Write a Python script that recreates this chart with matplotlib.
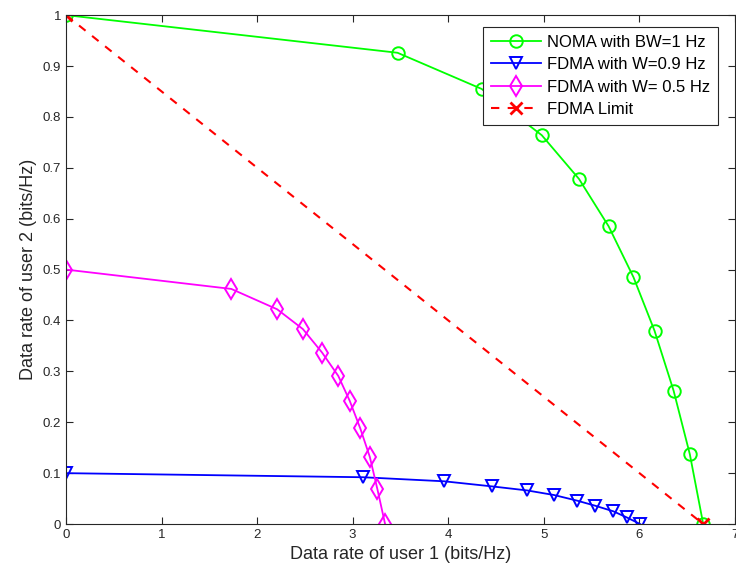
import numpy as np
import matplotlib.pyplot as plt

# ── Data ─────────────────────────────────────────────────────────────────────
noma_x = [0.0, 3.47, 4.35, 4.98, 5.37, 5.68, 5.94, 6.16, 6.36, 6.53, 6.67]
noma_y = [1.0, 0.926, 0.855, 0.764, 0.678, 0.585, 0.485, 0.380, 0.262, 0.137, 0.0]

fdma09_x = [0.0, 3.11, 3.96, 4.46, 4.83, 5.11, 5.35, 5.54, 5.73, 5.87, 6.01]
fdma09_y = [0.100, 0.092, 0.084, 0.074, 0.066, 0.057, 0.046, 0.036, 0.025, 0.013, 0.0]

fdma05_x = [0.0, 1.73, 2.21, 2.48, 2.68, 2.85, 2.97, 3.08, 3.18, 3.26, 3.34]
fdma05_y = [0.500, 0.462, 0.422, 0.383, 0.337, 0.291, 0.242, 0.188, 0.132, 0.068, 0.0]

limit_x = [0.0, 6.67]
limit_y = [1.0, 0.0]

plt.rcParams["font.family"] = "Liberation Sans"

fig = plt.figure(figsize=(7.36, 5.81), dpi=100)
ax = fig.add_axes([0.0897, 0.098, 0.9086, 0.876])

ax.plot(noma_x, noma_y, color="#00ff00", lw=1.3, marker="o", ms=9,
        mfc="none", mew=1.4, label="NOMA with BW=1 Hz")
ax.plot(fdma09_x, fdma09_y, color="#0000ff", lw=1.3, marker="v", ms=9,
        mfc="none", mew=1.4, label="FDMA with W=0.9 Hz")
ax.plot(fdma05_x, fdma05_y, color="#ff00ff", lw=1.3, marker="d", ms=10,
        mfc="none", mew=1.4, label="FDMA with W= 0.5 Hz")
ax.plot(limit_x, limit_y, color="#ff0000", lw=1.5, ls=(0, (4, 4)), marker="x",
        ms=8, mew=2, label="FDMA Limit")

ax.set_xlim(0, 7)
ax.set_ylim(0, 1)
ax.set_xticks(np.arange(0, 8, 1))
ax.set_yticks(np.arange(0, 1.01, 0.1))
ax.set_yticklabels(["0", "0.1", "0.2", "0.3", "0.4", "0.5", "0.6", "0.7",
                    "0.8", "0.9", "1"])
ax.tick_params(direction="in", top=True, right=True, labelsize=9.5,
               length=5, color="#262626", labelcolor="#262626")
for s in ax.spines.values():
    s.set_color("#262626")
    s.set_linewidth(0.8)

ax.set_xlabel("Data rate of user 1 (bits/Hz)", fontsize=13, color="#262626")
ax.set_ylabel("Data rate of user 2 (bits/Hz)", fontsize=13, color="#262626")

leg = ax.legend(loc="upper right", bbox_to_anchor=(0.975, 0.976),
                borderaxespad=0, fontsize=12, fancybox=False,
                framealpha=1, edgecolor="#262626",
                handlelength=3, labelspacing=0.45, borderpad=0.45,
                handletextpad=0.4)
leg.get_frame().set_linewidth(0.8)

plt.savefig("out.png", dpi=100)
